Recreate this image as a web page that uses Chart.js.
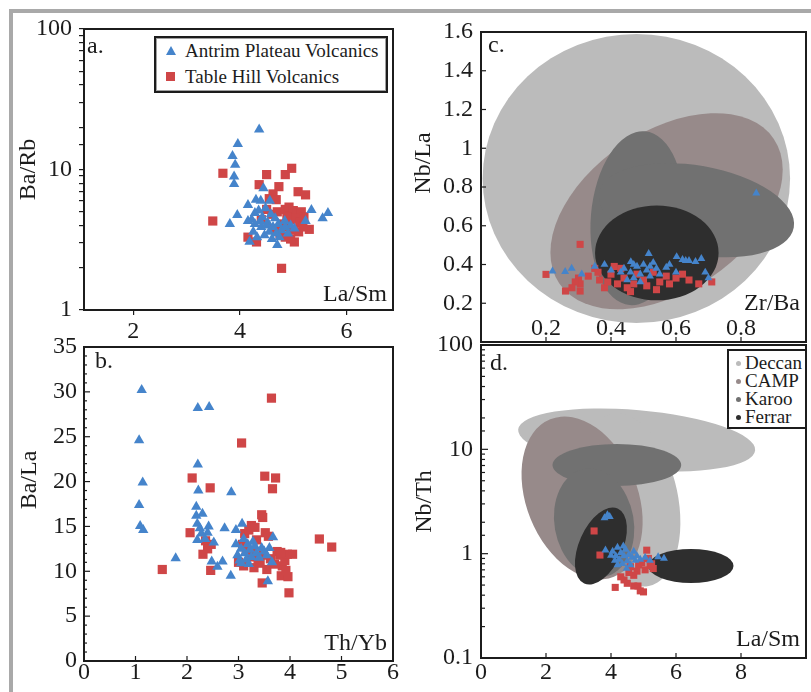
<!DOCTYPE html>
<html>
<head>
<meta charset="utf-8">
<title>Antrim Plateau and Table Hill volcanics – trace element ratios</title>
<script src="https://cdn.jsdelivr.net/npm/chart.js@4.4.1/dist/chart.umd.min.js"></script>
<style>
  html, body { margin: 0; padding: 0; background: #fff; overflow: hidden; width: 811px; height: 692px; }
  #frame { position: absolute; left: 9px; top: 9px; width: 830px; height: 720px;
           border-left: 4px solid #a9a9a9; border-top: 4px solid #a9a9a9; }
  canvas { position: absolute; }
  .legend { position: absolute; box-sizing: border-box; background: #fff; color: #1c1c1c;
            font-family: "Liberation Serif", "Times New Roman", serif; white-space: nowrap; }
  .legend .row { position: relative; }
  #legA { left: 154px; top: 36px; width: 234px; height: 57px; border: 2px solid #1c1c1c;
          box-shadow: inset 0 0 0 1px #a0a0a0; font-size: 19px; }
  #legA .row { height: 26px; line-height: 26px; padding-left: 29px; }
  #legA .tri { position: absolute; left: 10px; top: 8px; width: 0; height: 0;
               border-left: 5px solid transparent; border-right: 5px solid transparent; }
  #legA .sq { position: absolute; left: 10px; top: 8px; width: 9px; height: 9px; }
  #legD { left: 727px; top: 349px; width: 80px; height: 80px; border: 2px solid #1c1c1c;
          font-size: 19px; padding-top: 3px; }
  #legD .row { height: 18px; line-height: 18px; padding-left: 16px; }
  #legD .dot { position: absolute; left: 7px; top: 7px; width: 5px; height: 5px; border-radius: 50%; }
</style>
</head>
<body>
<div id="frame"></div>
<canvas id="pa" width="400" height="345" style="left:0;top:0"></canvas>
<canvas id="pb" width="400" height="362" style="left:0;top:330px"></canvas>
<canvas id="pc" width="411" height="347" style="left:400px;top:0"></canvas>
<canvas id="pd" width="411" height="362" style="left:400px;top:330px"></canvas>
<div id="legA" class="legend"></div>
<div id="legD" class="legend"></div>
<script>
// ---- sample groups -------------------------------------------------------
const seriesNames = ['Antrim Plateau Volcanics', 'Table Hill Volcanics'];

// a. La/Sm vs Ba/Rb
const aAntrimLaSm = [4.36, 3.96, 3.86, 3.91, 3.89, 3.89, 4.44, 3.95, 3.81, 4.15, 4.30, 4.39, 4.56, 5.34, 5.55, 5.65, 5.23, 4.18, 4.70,
  4.22, 4.28, 4.35, 4.42, 4.48, 4.52, 4.58, 4.62, 4.66, 4.72, 4.78, 4.84, 4.90, 4.95, 5.02, 4.25, 4.32, 4.40, 4.46, 4.55, 4.60, 4.68, 4.74, 4.50, 4.38, 4.85, 4.15, 4.28];
const aAntrimBaRb = [19.3, 15.2, 12.5, 10.8, 8.9, 7.9, 7.35, 4.75, 4.1, 5.6, 6.1, 6.0, 6.0, 5.15, 4.5, 4.9, 4.3, 3.06, 2.9,
  4.4, 4.9, 5.1, 4.6, 5.3, 4.2, 4.8, 3.9, 4.5, 4.1, 3.7, 4.3, 3.5, 4.0, 3.8, 3.6, 3.3, 3.9, 3.4, 3.6, 3.2, 3.5, 3.3, 4.0, 4.3, 3.9, 4.3, 4.1];
const aTableLaSm = [3.68, 3.49, 4.50, 4.85, 4.97, 4.36, 4.73, 5.09, 5.23, 4.62, 4.55, 4.68, 4.78, 4.31, 4.15, 5.30, 5.02,
  4.85, 4.92, 5.00, 5.08, 5.15, 4.88, 4.95, 5.05, 5.12, 4.80, 4.90, 5.00, 5.10, 4.75, 4.85, 4.95, 4.60, 4.50, 4.70, 5.20, 4.40, 4.65, 5.18];
const aTableBaRb = [9.4, 4.3, 9.2, 9.2, 10.2, 7.8, 7.55, 6.95, 6.6, 6.7, 6.2, 6.1, 1.98, 3.05, 3.3, 3.75, 3.05,
  5.2, 5.4, 5.1, 4.9, 5.0, 4.6, 4.4, 4.5, 4.2, 4.1, 3.9, 3.7, 3.6, 3.5, 3.3, 3.2, 4.8, 5.2, 5.0, 4.6, 4.4, 3.8, 3.9];

// b. Th/Yb vs Ba/La
const bAntrimThYb = [1.12, 1.07, 1.14, 1.07, 1.09, 1.15, 2.21, 2.43, 2.21, 2.22, 2.86, 2.18, 2.30, 2.73, 1.78, 2.48, 2.59, 2.69, 2.85, 3.57, 3.67, 3.07,
  2.18, 2.20, 2.25, 2.42, 2.20, 2.28, 2.40, 2.35, 2.52,
  2.95, 2.95, 2.98, 3.02, 3.05, 3.10, 3.12, 3.15, 3.18, 3.22, 3.25, 3.28, 3.32, 3.35, 3.40, 3.45, 3.50, 3.55, 3.60, 3.65, 3.05, 3.20];
const bAntrimBaLa = [30.2, 24.6, 19.9, 17.4, 15.05, 14.6, 28.2, 28.3, 21.9, 19.0, 18.8, 17.2, 16.4, 14.8, 11.45, 11.1, 10.5, 11.1, 9.5, 8.9, 13.8, 15.3,
  16.2, 15.3, 14.8, 15.0, 13.5, 14.2, 14.3, 13.6, 13.2,
  14.6, 13.0, 11.8, 11.2, 12.5, 13.6, 12.0, 11.3, 13.0, 12.4, 11.6, 13.3, 12.8, 12.0, 11.5, 12.6, 12.2, 11.8, 12.6, 11.0, 10.9, 10.8];
const bTableThYb = [3.64, 3.06, 2.10, 2.45, 3.51, 3.72, 3.66, 1.52, 2.06, 2.31, 2.46, 2.47, 2.36, 4.57, 4.81, 3.98, 3.46, 4.05, 3.83, 3.96, 3.47, 3.45, 3.52,
  3.00, 3.08, 3.12, 3.20, 3.25, 3.15, 3.22, 3.30, 3.28, 3.35, 3.38, 3.42, 3.48, 3.55, 3.58, 3.62, 3.75, 3.80, 3.85, 3.90, 3.92, 3.95, 3.82, 3.70, 3.10, 3.32, 2.40];
const bTableBaLa = [29.3, 24.3, 20.4, 19.3, 20.6, 20.4, 19.2, 10.2, 14.3, 11.9, 10.1, 13.0, 13.4, 13.6, 12.7, 7.6, 8.7, 11.9, 9.5, 9.4, 16.0, 16.3, 14.3,
  11.0, 13.0, 14.2, 14.6, 15.1, 12.4, 11.6, 10.4, 12.0, 13.5, 11.2, 10.9, 11.8, 10.2, 13.9, 11.4, 12.2, 11.8, 10.6, 11.2, 10.1, 11.9, 12.1, 10.8, 10.6, 14.9, 12.5];

// c. Zr/Ba vs Nb/La
const cAntrimZrBa = [0.847, 0.22, 0.259, 0.279, 0.31, 0.35, 0.461, 0.516, 0.602, 0.63, 0.64, 0.678, 0.69, 0.70, 0.60, 0.57,
  0.44, 0.46, 0.47, 0.48, 0.49, 0.50, 0.51, 0.52, 0.53, 0.54, 0.45, 0.43, 0.55, 0.49, 0.47, 0.52, 0.40, 0.38, 0.66, 0.62, 0.58];
const cAntrimNbLa = [0.768, 0.366, 0.363, 0.38, 0.35, 0.39, 0.414, 0.456, 0.44, 0.42, 0.42, 0.43, 0.36, 0.33, 0.36, 0.385,
  0.38, 0.36, 0.33, 0.39, 0.35, 0.40, 0.37, 0.34, 0.41, 0.38, 0.32, 0.36, 0.35, 0.31, 0.40, 0.39, 0.37, 0.40, 0.415, 0.425, 0.40];
const cTableZrBa = [0.305, 0.20, 0.26, 0.305, 0.30, 0.305, 0.35, 0.365, 0.38, 0.46, 0.54, 0.67, 0.71,
  0.40, 0.42, 0.43, 0.44, 0.45, 0.47, 0.48, 0.50, 0.51, 0.53, 0.55, 0.57, 0.58, 0.60, 0.62, 0.41, 0.39, 0.36, 0.33, 0.29, 0.28, 0.64];
const cTableNbLa = [0.504, 0.349, 0.263, 0.263, 0.33, 0.30, 0.38, 0.32, 0.28, 0.26, 0.27, 0.30, 0.31,
  0.35, 0.30, 0.38, 0.33, 0.28, 0.30, 0.35, 0.32, 0.29, 0.36, 0.31, 0.34, 0.30, 0.33, 0.35, 0.39, 0.31, 0.36, 0.34, 0.31, 0.28, 0.32];

// d. La/Sm vs Nb/Th
const dAntrimLaSm = [3.89, 3.96, 3.80, 3.83, 5.63, 5.45,
  4.05, 4.15, 4.20, 4.25, 4.30, 4.35, 4.40, 4.45, 4.50, 4.55, 4.60, 4.65, 4.70, 4.75, 4.80, 4.20, 4.12, 4.38, 4.90, 5.05, 5.20, 4.00, 4.48];
const dAntrimNbTh = [2.35, 2.26, 2.2, 1.08, 0.90, 0.93,
  1.05, 0.95, 1.15, 0.88, 1.02, 0.80, 0.95, 1.10, 0.85, 0.98, 0.78, 0.92, 1.05, 0.86, 0.95, 0.78, 0.86, 1.18, 0.88, 0.92, 0.86, 0.96, 0.72];
const dTableLaSm = [3.48, 3.66, 5.10, 4.13, 4.40, 4.50, 4.70, 4.83, 5.00, 4.90, 5.30, 5.20, 4.80,
  4.60, 4.95, 5.05, 5.15, 4.70, 4.85, 5.25, 4.55, 4.30];
const dTableNbTh = [1.65, 0.97, 1.08, 0.475, 0.56, 0.52, 0.49, 0.49, 0.43, 0.44, 0.72, 0.77, 0.68,
  0.75, 0.82, 0.70, 0.90, 0.62, 0.78, 0.80, 0.66, 0.60];

// ---- comparison large igneous provinces ----------------------------------
const provinceNames = ['Deccan', 'CAMP', 'Karoo', 'Ferrar'];
// fields: [province, centre x, centre y, x at end of x-radius, y at end of y-radius, tilt in degrees]
const cFields = [
  [0, 0.478, 0.844, 0.951, 1.590, 0],
  [1, 0.571, 0.675, 0.969, 1.087, -34],
  [2, 0.481, 0.639, 0.624, 1.089, 5],
  [2, 0.663, 0.680, 0.967, 0.910, 10],
  [3, 0.541, 0.460, 0.731, 0.705, 0]
];
const dFields = [
  [0, 4.79, 12.3, 8.45, 23.8, 5],
  [0, 4.60, 3.27, 6.06, 22.8, -12],
  [1, 3.11, 3.42, 4.82, 22.3, -22],
  [2, 4.18, 7.08, 6.16, 11.25, 0],
  [2, 3.48, 1.97, 4.70, 6.62, -10],
  [3, 3.69, 1.184, 4.36, 2.93, 24],
  [3, 6.46, 0.762, 7.77, 1.108, 0]
];

// ---- axis ticks ----------------------------------------------------------
const aXTickValues = [2, 4, 6];

// ---- styling -------------------------------------------------------------
const INK = '#1c1c1c';
const BLUE = '#4584cb';
const RED = '#cf4647';
const provinceColors = ['#bbbbbb', '#978a8a', '#717171', '#2e2e2e'];
const FONT = '"Liberation Serif", "Times New Roman", serif';

Chart.defaults.font.family = FONT;
Chart.defaults.font.size = 24;
Chart.defaults.color = INK;

const pts = (xs, ys) => xs.map((x, i) => ({ x, y: ys[i] }));
const isDecade = v => Math.abs(Math.log10(v) - Math.round(Math.log10(v))) < 1e-6;
const isMultiple = (v, s) => Math.abs(v / s - Math.round(v / s)) < 1e-6;
// fixed axis sizes so every plot area sits exactly where it belongs
const fixW = w => s => { s.width = w; s.paddingTop = 0; s.paddingBottom = 0; };
const fixH = h => s => { s.height = h; s.paddingLeft = 0; s.paddingRight = 0; };

function seriesSets(ax, ay, tx, ty, small) {
  return [
    { label: seriesNames[0], data: pts(ax, ay), pointStyle: 'triangle', pointRadius: small ? 4.6 : 6,
      pointBackgroundColor: BLUE, backgroundColor: BLUE, pointBorderWidth: 0, showLine: false },
    { label: seriesNames[1], data: pts(tx, ty), pointStyle: 'rect', pointRadius: small ? 5 : 6.5,
      pointBackgroundColor: RED, backgroundColor: RED, pointBorderWidth: 0, showLine: false }
  ];
}

// shaded province fields, sized through the chart's own scales
function provinceFields(list) {
  return {
    id: 'provinceFields',
    beforeDatasetsDraw(chart) {
      const { ctx, chartArea: a, scales: { x, y } } = chart;
      ctx.save();
      ctx.beginPath();
      ctx.rect(a.left, a.top, a.right - a.left, a.bottom - a.top);
      ctx.clip();
      list.forEach(([p, cx, cy, xe, ye, tilt]) => {
        const px = x.getPixelForValue(cx), py = y.getPixelForValue(cy);
        const rx = Math.abs(x.getPixelForValue(xe) - px);
        const ry = Math.abs(y.getPixelForValue(ye) - py);
        ctx.beginPath();
        ctx.ellipse(px, py, rx, ry, tilt * Math.PI / 180, 0, Math.PI * 2);
        ctx.fillStyle = provinceColors[p];
        ctx.fill();
      });
      ctx.restore();
    }
  };
}

// plot frame, inward tick marks and the panel letter
function panelDecor(opt) {
  return {
    id: 'panelDecor',
    afterDatasetsDraw(chart) {
      const { ctx, chartArea: a } = chart;
      ctx.save();
      ctx.strokeStyle = INK;
      ctx.lineWidth = 1.2;
      (opt.inTicks || []).forEach(t => {
        const s = chart.scales[t.axis];
        s.ticks.forEach(tk => {
          const p = s.getPixelForValue(tk.value);
          const len = t.major(tk.value) ? t.long : t.short;
          ctx.beginPath();
          if (t.axis === 'y') { ctx.moveTo(a.left, p); ctx.lineTo(a.left + len, p); }
          else { ctx.moveTo(p, a.bottom); ctx.lineTo(p, a.bottom - len); }
          ctx.stroke();
        });
      });
      ctx.lineWidth = 2;
      ctx.strokeRect(a.left, a.top, a.right - a.left, a.bottom - a.top);
      ctx.fillStyle = INK;
      ctx.font = '24px ' + FONT;
      ctx.textAlign = 'left';
      ctx.textBaseline = 'alphabetic';
      ctx.fillText(opt.letter, a.left + opt.dx, a.top + opt.dy);
      ctx.restore();
    }
  };
}

const base = {
  responsive: false,
  animation: false,
  devicePixelRatio: 1,
  events: [],
  plugins: { legend: { display: false }, tooltip: { enabled: false } }
};
const noGrid = { display: false, drawTicks: false, tickLength: 0 };

// a. ----------------------------------------------------------------------
new Chart(document.getElementById('pa'), {
  type: 'scatter',
  data: { datasets: seriesSets(aAntrimLaSm, aAntrimBaRb, aTableLaSm, aTableBaRb, false) },
  options: Object.assign({}, base, {
    layout: { padding: { top: 29, right: 7, left: 0, bottom: 0 } },
    scales: {
      x: {
        type: 'linear', min: 1.075, max: 6.87,
        border: { display: false },
        grid: { drawOnChartArea: false, drawTicks: true, tickLength: 5, color: INK, lineWidth: 1.2 },
        afterBuildTicks: s => { s.ticks = aXTickValues.map(value => ({ value })); },
        ticks: { padding: 2, maxRotation: 0, autoSkip: false },
        title: { display: true, text: 'La/Sm ', align: 'end', padding: { top: 0, bottom: 35.6 } },
        afterFit: fixH(35)
      },
      y: {
        type: 'logarithmic', min: 1, max: 100,
        border: { display: false },
        grid: { drawOnChartArea: false, drawTicks: true, tickLength: 5, color: INK, lineWidth: 1.2 },
        ticks: { padding: 7, autoSkip: false, callback: v => isDecade(v) ? String(v) : '' },
        title: { display: true, text: 'Ba/Rb', padding: { top: 14.6, bottom: 0 } },
        afterFit: fixW(84)
      }
    }
  }),
  plugins: [panelDecor({ letter: 'a.', dx: 3, dy: 24 })]
});

// b. ----------------------------------------------------------------------
new Chart(document.getElementById('pb'), {
  type: 'scatter',
  data: { datasets: seriesSets(bAntrimThYb, bAntrimBaLa, bTableThYb, bTableBaLa, false) },
  options: Object.assign({}, base, {
    layout: { padding: { top: 17, right: 7, left: 0, bottom: 0 } },
    scales: {
      x: {
        type: 'linear', min: 0, max: 6,
        border: { display: false }, grid: noGrid,
        ticks: { stepSize: 1, padding: -2.4, maxRotation: 0, autoSkip: false },
        title: { display: true, text: 'Th/Yb ', align: 'end', padding: { top: 0, bottom: 34 } },
        afterFit: fixH(31)
      },
      y: {
        type: 'linear', min: 0, max: 35,
        border: { display: false }, grid: noGrid,
        ticks: { stepSize: 1, padding: 7, autoSkip: false, callback: v => isMultiple(v, 5) ? String(v) : '' },
        title: { display: true, text: '        Ba/La', padding: { top: 15.6, bottom: 0 } },
        afterFit: fixW(84)
      }
    }
  }),
  plugins: [panelDecor({
    letter: 'b.', dx: 11, dy: 21,
    inTicks: [
      { axis: 'y', major: v => isMultiple(v, 5), long: 6, short: 3 },
      { axis: 'x', major: () => true, long: 5, short: 5 }
    ]
  })]
});

// c. ----------------------------------------------------------------------
new Chart(document.getElementById('pc'), {
  type: 'scatter',
  data: { datasets: seriesSets(cAntrimZrBa, cAntrimNbLa, cTableZrBa, cTableNbLa, true) },
  options: Object.assign({}, base, {
    layout: { padding: { top: 32, right: 1, left: 0, bottom: 0 } },
    scales: {
      x: {
        type: 'linear', min: 0, max: 1, z: 1,
        border: { display: false }, grid: noGrid,
        ticks: { stepSize: 0.2, mirror: true, padding: -1.4, maxRotation: 0, autoSkip: false,
                 callback: v => (v > 0.01 && v < 0.99) ? (Math.round(v * 10) / 10).toString() : '' },
        title: { display: true, text: 'Zr/Ba ', align: 'end', padding: { top: 0, bottom: 25.6 } },
        afterFit: fixH(2)
      },
      y: {
        type: 'linear', min: 0, max: 1.6,
        border: { display: false }, grid: noGrid,
        ticks: { stepSize: 0.2, padding: 8, autoSkip: false,
                 callback: v => v < 0.01 ? '' : (Math.round(v * 10) / 10).toString() },
        title: { display: true, text: '        Nb/La', padding: { top: 9.6, bottom: 0 } },
        afterFit: fixW(81)
      }
    }
  }),
  plugins: [provinceFields(cFields), panelDecor({
    letter: 'c.', dx: 7, dy: 20,
    inTicks: [
      { axis: 'y', major: () => true, long: 5, short: 5 },
      { axis: 'x', major: () => true, long: 5, short: 5 }
    ]
  })]
});

// d. ----------------------------------------------------------------------
new Chart(document.getElementById('pd'), {
  type: 'scatter',
  data: { datasets: seriesSets(dAntrimLaSm, dAntrimNbTh, dTableLaSm, dTableNbTh, true) },
  options: Object.assign({}, base, {
    layout: { padding: { top: 15, right: 1, left: 0, bottom: 0 } },
    scales: {
      x: {
        type: 'linear', min: 0, max: 10,
        border: { display: false }, grid: noGrid,
        ticks: { stepSize: 2, padding: 0, maxRotation: 0, autoSkip: false,
                 callback: v => v < 9 ? String(v) : '' },
        title: { display: true, text: 'La/Sm ', align: 'end', padding: { top: 0, bottom: 37.6 } },
        afterFit: fixH(34)
      },
      y: {
        type: 'logarithmic', min: 0.1, max: 100,
        border: { display: false }, grid: noGrid,
        ticks: { padding: 8, autoSkip: false,
                 callback: v => isDecade(v) ? String(Math.round(v * 10) / 10) : '' },
        title: { display: true, text: 'Nb/Th', padding: { top: 10.6, bottom: 0 } },
        afterFit: fixW(81)
      }
    }
  }),
  plugins: [provinceFields(dFields), panelDecor({
    letter: 'd.', dx: 9, dy: 25,
    inTicks: [
      { axis: 'y', major: isDecade, long: 7, short: 4 },
      { axis: 'x', major: () => true, long: 5, short: 5 }
    ]
  })]
});

// ---- legends -------------------------------------------------------------
const legA = document.getElementById('legA');
seriesNames.forEach((name, i) => {
  const row = document.createElement('div');
  row.className = 'row';
  const mk = document.createElement('span');
  if (i === 0) { mk.className = 'tri'; mk.style.borderBottom = '9px solid ' + BLUE; }
  else { mk.className = 'sq'; mk.style.background = RED; }
  row.appendChild(mk);
  row.appendChild(document.createTextNode(name));
  legA.appendChild(row);
});
const legD = document.getElementById('legD');
provinceNames.forEach((name, i) => {
  const row = document.createElement('div');
  row.className = 'row';
  const dot = document.createElement('span');
  dot.className = 'dot';
  dot.style.background = provinceColors[i];
  row.appendChild(dot);
  row.appendChild(document.createTextNode(name));
  legD.appendChild(row);
});
</script>
</body>
</html>
